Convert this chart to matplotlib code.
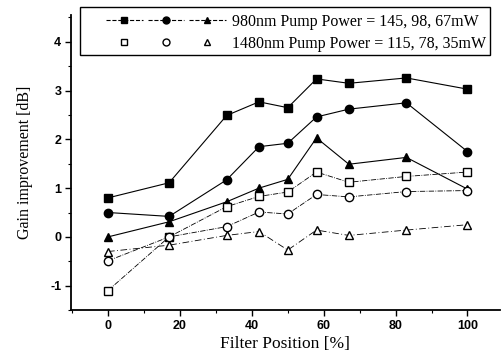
import matplotlib
matplotlib.use("Agg")
import matplotlib.pyplot as plt
from matplotlib.legend_handler import HandlerTuple
from matplotlib.lines import Line2D
from matplotlib.patches import Rectangle
from matplotlib.ticker import MultipleLocator, FuncFormatter

# filter positions [%]
pos = [0, 17, 33, 42, 50, 58, 67, 83, 100]

# 980nm pump: 145, 98, 67 mW
g980_145 = [0.80, 1.11, 2.49, 2.77, 2.65, 3.24, 3.15, 3.26, 3.03]
g980_98 = [0.50, 0.42, 1.17, 1.85, 1.92, 2.46, 2.62, 2.75, 1.75]
g980_67 = [0.00, 0.31, 0.72, 1.00, 1.18, 2.03, 1.49, 1.63, 0.98]

# 1480nm pump: 115, 78, 35 mW
g1480_115 = [-1.10, 0.00, 0.62, 0.83, 0.92, 1.33, 1.12, 1.24, 1.33]
g1480_78 = [-0.49, 0.00, 0.21, 0.51, 0.47, 0.87, 0.82, 0.93, 0.95]
g1480_35 = [-0.30, -0.17, 0.03, 0.11, -0.27, 0.14, 0.03, 0.14, 0.25]

serif = "Liberation Serif"
sans = "Liberation Sans"
W, H = 501, 358

fig = plt.figure(figsize=(W / 100, H / 100), dpi=100)
ax = fig.add_axes([0.1417, 0.134, 0.856, 0.824])

ms = 6
ax.plot(pos, g980_145, "k-", lw=0.8, marker="s", ms=ms)
ax.plot(pos, g980_98, "k-", lw=0.8, marker="o", ms=ms)
ax.plot(pos, g980_67, "k-", lw=0.8, marker="^", ms=ms)

ax.plot(pos, g1480_115, color="k", ls="-.", lw=0.6, marker="s", ms=ms, mfc="white")
ax.plot(pos, g1480_78, color="k", ls="-.", lw=0.6, marker="o", ms=ms, mfc="white")
ax.plot(pos, g1480_35, color="k", ls=(0, (8, 3, 1, 3)), lw=0.6, marker="^", ms=ms, mfc="white")

ax.set_xlim(-10.3, 109)
ax.set_ylim(-1.5, 4.55)
ax.xaxis.set_major_locator(MultipleLocator(20))
ax.xaxis.set_minor_locator(MultipleLocator(10))
ax.yaxis.set_major_locator(MultipleLocator(1))
ax.yaxis.set_minor_locator(MultipleLocator(0.5))
ax.yaxis.set_major_formatter(FuncFormatter(lambda v, p: "%d" % round(v)))
ax.tick_params(which="major", direction="out", length=4, width=1, pad=3)
ax.tick_params(which="minor", direction="out", length=2.5, width=0.8)
for lab in ax.get_xticklabels() + ax.get_yticklabels():
    lab.set_family(sans)
    lab.set_fontsize(9)
    lab.set_fontweight("bold")

for s in ["top", "right"]:
    ax.spines[s].set_visible(False)
for s in ["left", "bottom"]:
    ax.spines[s].set_linewidth(1.3)

ax.set_xlabel("Filter Position [%]", family=serif, fontsize=12.5, labelpad=3)
ax.set_ylabel("Gain improvement [dB]", family=serif, fontsize=11.5, labelpad=12)

# legend box drawn by hand so it can be wider on the left than matplotlib pads it
fig.patches.append(Rectangle((80 / W, 1 - 55 / H), 410 / W, 48 / H,
                             transform=fig.transFigure, fill=True, fc="white",
                             ec="k", lw=1.0, zorder=5))

h1 = tuple(Line2D([], [], color="k", ls="--", lw=0.8, marker=m, ms=5) for m in ["s", "o", "^"])
h2 = tuple(Line2D([], [], color="k", ls="none", marker=m, ms=5, mfc="white") for m in ["s", "o", "^"])
leg = fig.legend([h1, h2],
                 ["980nm Pump Power = 145, 98, 67mW", "1480nm Pump Power = 115, 78, 35mW"],
                 handler_map={tuple: HandlerTuple(ndivide=None, pad=0.3)},
                 loc="upper left", bbox_to_anchor=(106 / W, 1 - 14 / H),
                 handlelength=7.5, prop={"family": serif, "size": 11.5},
                 frameon=False, borderpad=0, labelspacing=0.35,
                 handletextpad=0.4, borderaxespad=0)
leg.set_zorder(6)

fig.savefig("out.png", dpi=100)
